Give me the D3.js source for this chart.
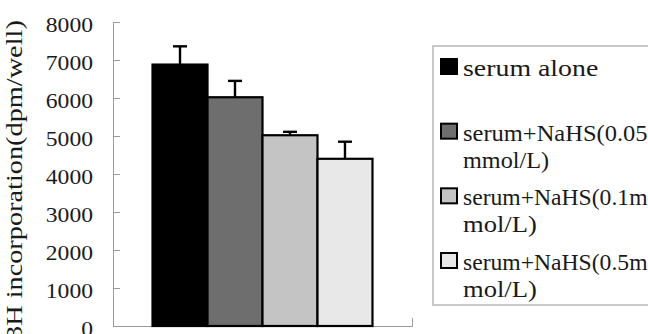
<!DOCTYPE html>
<html>
<head>
<meta charset="utf-8">
<script src="https://cdn.jsdelivr.net/npm/d3@7"></script>
<style>
  html, body { margin: 0; padding: 0; background: #fff; }
  svg { display: block; }
</style>
</head>
<body>
<svg id="chart" width="648" height="334"></svg>
<script>
// Treatment groups, mean 3H incorporation and error (dpm/well)
const series = ["serum alone", "serum+NaHS(0.05mmol/L)", "serum+NaHS(0.1mmol/L)", "serum+NaHS(0.5mmol/L)"];
const values = [6880, 6020, 5020, 4400];
const errors = [480, 430, 90, 450];
const fills = ["#000000", "#6e6e6e", "#c4c4c4", "#e8e8e8"];
const legendLines = [
  ["serum alone"],
  ["serum+NaHS(0.05", "mmol/L)"],
  ["serum+NaHS(0.1m", "mol/L)"],
  ["serum+NaHS(0.5m", "mol/L)"]
];
const yTicks = [0, 1000, 2000, 3000, 4000, 5000, 6000, 7000, 8000];
const yTitle = "3H incorporation(dpm/well)";

const svg = d3.select("#chart");
const font = "'Liberation Serif', 'DejaVu Serif', serif";
const axisColor = "#9a9a9a";

// plot frame
const plot = { left: 113, right: 412, top: 22, bottom: 326 };

const y = d3.scaleLinear().domain([0, 8000]).range([plot.bottom, plot.top]);
const group = d3.scaleBand().domain(["all"]).range([plot.left, plot.right])
  .paddingInner(0.1523).paddingOuter(0.1523);
const x = d3.scaleBand().domain(series)
  .range([group("all"), group("all") + group.bandwidth()]).padding(0);

// text drawn on a fixed half-width character cell
function cellText(sel, cell) {
  sel.attr("textLength", function () { return this.textContent.length * cell; })
     .attr("lengthAdjust", "spacingAndGlyphs");
}

// y axis with inward ticks
const yAxis = svg.append("g")
  .attr("transform", `translate(${plot.left},0)`)
  .call(d3.axisLeft(y).tickValues(yTicks).tickFormat(d3.format("d"))
    .tickSizeInner(-7).tickSizeOuter(0).tickPadding(20));
yAxis.select(".domain").attr("stroke", axisColor);
yAxis.selectAll(".tick line").attr("stroke", axisColor);
yAxis.selectAll(".tick text")
  .attr("fill", "#1a1a1a")
  .style("font-family", font)
  .style("font-size", "22px")
  .attr("dy", "0.45em")
  .call(cellText, 11.8);

// x axis baseline with end ticks
const xAxis = svg.append("g")
  .attr("transform", `translate(0,${plot.bottom})`)
  .call(d3.axisBottom(group).tickSizeInner(0).tickSizeOuter(-8).tickFormat(""));
xAxis.select(".domain").attr("stroke", axisColor);
xAxis.selectAll(".tick").remove();

// bars
svg.append("g").selectAll("rect")
  .data(series)
  .join("rect")
  .attr("x", d => x(d))
  .attr("y", (d, i) => y(values[i]))
  .attr("width", x.bandwidth())
  .attr("height", (d, i) => y(0) - y(values[i]))
  .attr("fill", (d, i) => fills[i])
  .attr("stroke", "#000")
  .attr("stroke-width", 2.2);

// error bars
const eb = svg.append("g").selectAll("g")
  .data(series)
  .join("g")
  .attr("stroke", "#000")
  .attr("stroke-width", 2.4);
eb.append("line")
  .attr("x1", d => x(d) + x.bandwidth() / 2)
  .attr("x2", d => x(d) + x.bandwidth() / 2)
  .attr("y1", (d, i) => y(values[i]))
  .attr("y2", (d, i) => y(values[i] + errors[i]));
eb.append("line")
  .attr("x1", d => x(d) + x.bandwidth() / 2 - 7)
  .attr("x2", d => x(d) + x.bandwidth() / 2 + 7)
  .attr("y1", (d, i) => y(values[i] + errors[i]))
  .attr("y2", (d, i) => y(values[i] + errors[i]));

// y axis title
svg.append("text")
  .attr("transform", "translate(22,340) rotate(-90)")
  .attr("fill", "#1a1a1a")
  .style("font-family", font)
  .style("font-size", "24px")
  .text(yTitle)
  .call(cellText, 12.3);

// legend
const legend = svg.append("g");
legend.append("rect")
  .attr("x", 433).attr("y", 46)
  .attr("width", 240).attr("height", 259)
  .attr("fill", "#fff")
  .attr("stroke", "#b8b8b8")
  .attr("stroke-width", 1.5);

const row = d3.scaleLinear().domain([0, series.length - 1]).range([76, 270]);
const items = legend.selectAll("g.item")
  .data(series)
  .join("g")
  .attr("class", "item")
  .attr("transform", (d, i) => `translate(0,${row(i)})`);
items.append("rect")
  .attr("x", 441).attr("y", -17)
  .attr("width", 16).attr("height", 15)
  .attr("fill", (d, i) => fills[i])
  .attr("stroke", "#000")
  .attr("stroke-width", 2);
items.each(function (d, i) {
  d3.select(this).selectAll("text")
    .data(legendLines[i])
    .join("text")
    .attr("x", 463)
    .attr("y", (t, j) => j * 27)
    .attr("fill", "#1a1a1a")
    .style("font-family", font)
    .style("font-size", "24px")
    .text(t => t)
    .call(cellText, 12.3);
});
</script>
</body>
</html>
